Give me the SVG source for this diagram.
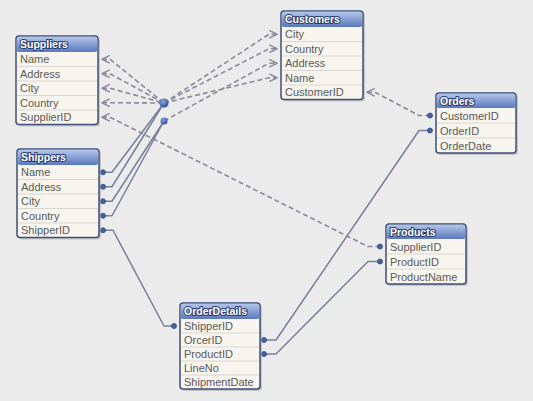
<svg xmlns="http://www.w3.org/2000/svg" width="533" height="401" viewBox="0 0 533 401">
<defs>
<linearGradient id="hg" x1="0" y1="0" x2="0" y2="1">
<stop offset="0" stop-color="#b3c5ea"/>
<stop offset="1" stop-color="#5a79bb"/>
</linearGradient>
<radialGradient id="hub" cx="0.4" cy="0.35" r="0.7">
<stop offset="0" stop-color="#8aa6e6"/>
<stop offset="1" stop-color="#2a4690"/>
</radialGradient>
<marker id="arr" viewBox="0 0 10 10" refX="9" refY="5" markerWidth="9" markerHeight="9" markerUnits="userSpaceOnUse" orient="auto-start-reverse">
<path d="M1,1 L9,5 L1,9" fill="none" stroke="#8a8a9c" stroke-width="1.6" stroke-linejoin="round" stroke-linecap="round"/>
</marker>
<style>
.shadow{fill:#9a9a9a;opacity:.45}
.body{fill:#f7f5ee;stroke:#3e4f78;stroke-width:1.5}
.head{fill:url(#hg)}
.sep{stroke:#d9d7cf;stroke-width:1}
.hdr{font-family:"Liberation Sans",Arial,sans-serif;font-weight:bold;font-size:10.5px;fill:#ffffff;stroke:#2b3d6e;stroke-width:2;paint-order:stroke;stroke-linejoin:round}
.row{font-family:"Liberation Sans",Arial,sans-serif;font-size:11px;fill:#5a5a5a}
.link{fill:none;stroke:#75819c;stroke-width:1.5;stroke-linejoin:round}
.dash{fill:none;stroke:#8a8a9c;stroke-width:1.6;stroke-dasharray:5,3;stroke-linejoin:round}
.dot{fill:#47639c;stroke:#2f4a80;stroke-width:0.8}
</style>
</defs>
<rect width="533" height="401" fill="#ebebeb"/>

<g id="connectors">
<!-- dashed to Suppliers from hub -->
<path class="dash" marker-start="url(#arr)" d="M102,59.25 L110,59.25 L164,103"/>
<path class="dash" marker-start="url(#arr)" d="M102,73.75 L110,73.75 L164,103"/>
<path class="dash" marker-start="url(#arr)" d="M102,88.25 L110,88.25 L164,103"/>
<path class="dash" marker-start="url(#arr)" d="M102,102.75 L110,102.75 L164,103"/>
<!-- dashed to Customers -->
<path class="dash" marker-end="url(#arr)" d="M164,103 L269,34.25 L277,34.25"/>
<path class="dash" marker-end="url(#arr)" d="M164,103 L269,48.75 L277,48.75"/>
<path class="dash" marker-end="url(#arr)" d="M164,121 L269,63.25 L277,63.25"/>
<path class="dash" marker-end="url(#arr)" d="M164,103 L269,77.75 L277,77.75"/>
<!-- SupplierID to Products -->
<path class="dash" marker-start="url(#arr)" d="M102,117.25 L110,117.25 L368,246.5 L380,246.5"/>
<!-- Orders CustomerID to Customers -->
<path class="dash" marker-start="url(#arr)" d="M367,92.25 L375,92.25 L419,115.5 L430,115.5"/>
<!-- solid from Shippers to hub -->
<path class="link" d="M103,172.25 L112,172.25 L164,103"/>
<path class="link" d="M103,186.75 L112,186.75 L164,103"/>
<path class="link" d="M103,201.25 L112,201.25 L164,121"/>
<path class="link" d="M103,215.75 L112,215.75 L164,121"/>
<!-- other solid links -->
<path class="link" d="M103,230.25 L113,230.25 L164,326 L174,326"/>
<path class="link" d="M264,340 L276,340 L419,130.5 L430,130.5"/>
<path class="link" d="M264,354 L276,354 L368,261.5 L380,261.5"/>
<!-- end dots -->
<circle class="dot" cx="103" cy="172.25" r="2.5"/>
<circle class="dot" cx="103" cy="186.75" r="2.5"/>
<circle class="dot" cx="103" cy="201.25" r="2.5"/>
<circle class="dot" cx="103" cy="215.75" r="2.5"/>
<circle class="dot" cx="103" cy="230.25" r="2.5"/>
<circle class="dot" cx="174" cy="326" r="2.5"/>
<circle class="dot" cx="264" cy="340" r="2.5"/>
<circle class="dot" cx="264" cy="354" r="2.5"/>
<circle class="dot" cx="430" cy="115.5" r="2.5"/>
<circle class="dot" cx="430" cy="130.5" r="2.5"/>
<circle class="dot" cx="380" cy="246.5" r="2.5"/>
<circle class="dot" cx="380" cy="261.5" r="2.5"/>
<!-- hubs -->
<circle cx="164" cy="103" r="4.5" fill="url(#hub)"/>
<circle cx="164" cy="121" r="3.5" fill="url(#hub)"/>
</g>

<g id="suppliers" transform="translate(16,36)">
<rect class="shadow" x="2" y="2" width="82" height="88.5" rx="3"/>
<rect class="body" width="82" height="88.5" rx="3"/>
<rect class="head" x="0.75" y="0.75" width="80.5" height="15.25" rx="2.5"/>
<line class="sep" x1="1" y1="30.5" x2="81" y2="30.5"/>
<line class="sep" x1="1" y1="45" x2="81" y2="45"/>
<line class="sep" x1="1" y1="59.5" x2="81" y2="59.5"/>
<line class="sep" x1="1" y1="74" x2="81" y2="74"/>
<text class="hdr" x="4" y="12">Suppliers</text>
<text class="row" x="4" y="27">Name</text>
<text class="row" x="4" y="41.5">Address</text>
<text class="row" x="4" y="56">City</text>
<text class="row" x="4" y="70.5">Country</text>
<text class="row" x="4" y="85">SupplierID</text>
</g>

<g id="customers" transform="translate(281,11)">
<rect class="shadow" x="2" y="2" width="82" height="88.5" rx="3"/>
<rect class="body" width="82" height="88.5" rx="3"/>
<rect class="head" x="0.75" y="0.75" width="80.5" height="15.25" rx="2.5"/>
<line class="sep" x1="1" y1="30.5" x2="81" y2="30.5"/>
<line class="sep" x1="1" y1="45" x2="81" y2="45"/>
<line class="sep" x1="1" y1="59.5" x2="81" y2="59.5"/>
<line class="sep" x1="1" y1="74" x2="81" y2="74"/>
<text class="hdr" x="4" y="12">Customers</text>
<text class="row" x="4" y="27">City</text>
<text class="row" x="4" y="41.5">Country</text>
<text class="row" x="4" y="56">Address</text>
<text class="row" x="4" y="70.5">Name</text>
<text class="row" x="4" y="85">CustomerID</text>
</g>

<g id="orders" transform="translate(436,93)">
<rect class="shadow" x="2" y="2" width="80" height="60" rx="3"/>
<rect class="body" width="80" height="60" rx="3"/>
<rect class="head" x="0.75" y="0.75" width="78.5" height="14.25" rx="2.5"/>
<line class="sep" x1="1" y1="30" x2="79" y2="30"/>
<line class="sep" x1="1" y1="45" x2="79" y2="45"/>
<text class="hdr" x="4" y="11.5">Orders</text>
<text class="row" x="4" y="26.5">CustomerID</text>
<text class="row" x="4" y="41.5">OrderID</text>
<text class="row" x="4" y="56.5">OrderDate</text>
</g>

<g id="shippers" transform="translate(17,149)">
<rect class="shadow" x="2" y="2" width="82" height="88.5" rx="3"/>
<rect class="body" width="82" height="88.5" rx="3"/>
<rect class="head" x="0.75" y="0.75" width="80.5" height="15.25" rx="2.5"/>
<line class="sep" x1="1" y1="30.5" x2="81" y2="30.5"/>
<line class="sep" x1="1" y1="45" x2="81" y2="45"/>
<line class="sep" x1="1" y1="59.5" x2="81" y2="59.5"/>
<line class="sep" x1="1" y1="74" x2="81" y2="74"/>
<text class="hdr" x="4" y="12">Shippers</text>
<text class="row" x="4" y="27">Name</text>
<text class="row" x="4" y="41.5">Address</text>
<text class="row" x="4" y="56">City</text>
<text class="row" x="4" y="70.5">Country</text>
<text class="row" x="4" y="85">ShipperID</text>
</g>

<g id="products" transform="translate(386,224)">
<rect class="shadow" x="2" y="2" width="80" height="60" rx="3"/>
<rect class="body" width="80" height="60" rx="3"/>
<rect class="head" x="0.75" y="0.75" width="78.5" height="14.25" rx="2.5"/>
<line class="sep" x1="1" y1="30" x2="79" y2="30"/>
<line class="sep" x1="1" y1="45" x2="79" y2="45"/>
<text class="hdr" x="4" y="11.5">Products</text>
<text class="row" x="4" y="26.5">SupplierID</text>
<text class="row" x="4" y="41.5">ProductID</text>
<text class="row" x="4" y="56.5">ProductName</text>
</g>

<g id="orderdetails" transform="translate(180,303)">
<rect class="shadow" x="2" y="2" width="80" height="86" rx="3"/>
<rect class="body" width="80" height="86" rx="3"/>
<rect class="head" x="0.75" y="0.75" width="78.5" height="15.25" rx="2.5"/>
<line class="sep" x1="1" y1="30" x2="79" y2="30"/>
<line class="sep" x1="1" y1="44" x2="79" y2="44"/>
<line class="sep" x1="1" y1="58" x2="79" y2="58"/>
<line class="sep" x1="1" y1="72" x2="79" y2="72"/>
<text class="hdr" x="4" y="12">OrderDetails</text>
<text class="row" x="4" y="27">ShipperID</text>
<text class="row" x="4" y="41">OrcerID</text>
<text class="row" x="4" y="55">ProductID</text>
<text class="row" x="4" y="69">LineNo</text>
<text class="row" x="4" y="83">ShipmentDate</text>
</g>
</svg>
